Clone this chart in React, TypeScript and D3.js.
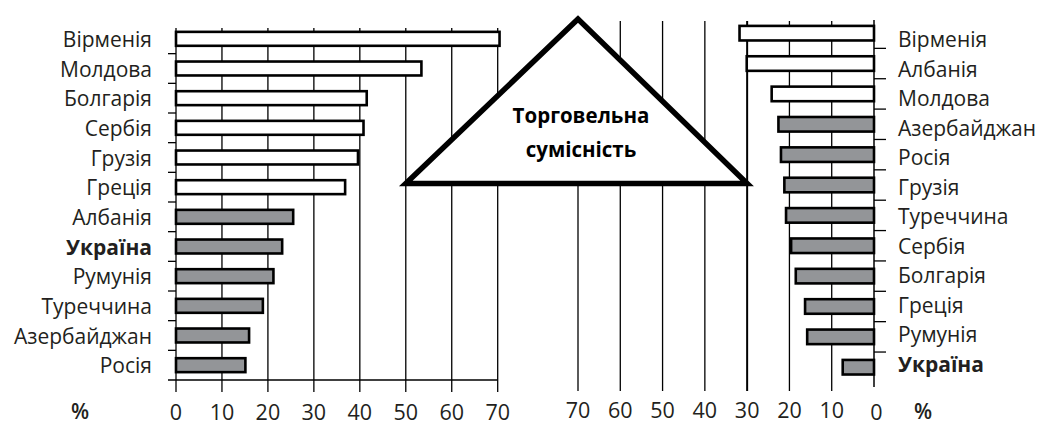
import * as d3 from 'd3';

const leftCountries = ['Вірменія', 'Молдова', 'Болгарія', 'Сербія', 'Грузія', 'Греція', 'Албанія', 'Україна', 'Румунія', 'Туреччина', 'Азербайджан', 'Росія'];
const leftValues = [70.4, 53.4, 41.5, 40.8, 39.6, 36.8, 25.5, 23.1, 21.2, 18.9, 15.9, 15.1];
const leftGroup = ['top', 'top', 'top', 'top', 'top', 'top', 'rest', 'rest', 'rest', 'rest', 'rest', 'rest'];

const rightCountries = ['Вірменія', 'Албанія', 'Молдова', 'Азербайджан', 'Росія', 'Грузія', 'Туреччина', 'Сербія', 'Болгарія', 'Греція', 'Румунія', 'Україна'];
const rightValues = [31.8, 30.1, 24.2, 22.6, 22.0, 21.2, 20.8, 19.6, 18.5, 16.3, 15.8, 7.4];
const rightGroup = ['top', 'top', 'top', 'rest', 'rest', 'rest', 'rest', 'rest', 'rest', 'rest', 'rest', 'rest'];

const ticks = [0, 10, 20, 30, 40, 50, 60, 70];
const highlight = 'Україна';
const title = ['Торговельна', 'сумісність'];

const FONT = '"Open Sans", "DejaVu Sans", sans-serif';
const GRAY = '#939598';
const INK = '#231f20';

export default function App() {
  const W = 1042;
  const H = 424;

  const xL = d3.scaleLinear().domain([0, 70]).range([176, 497.7]);
  const yL = d3.scaleBand().domain(leftCountries).range([24, 380]).paddingInner(0.53).paddingOuter(0.265);
  const yLTick = d3.scaleBand().domain(leftCountries).range([24, 380]);

  const xR = d3.scaleLinear().domain([0, 70]).range([874, 578]);
  const yR = d3.scaleBand().domain(rightCountries).range([18, 382.4]).paddingInner(0.52).paddingOuter(0.26);
  const yRTick = d3.scaleBand().domain(rightCountries).range([18, 382.4]);
  const yRLabel = d3.scaleBand().domain(rightCountries).range([24.7, 379.3]);

  // the roof-shaped frame around the title sits on the grid lines
  const tri = d3.line()([
    [xR(70), 19],
    [xL(50), 183.5],
    [xR(30), 183.5],
  ]) + 'Z';

  return (
    <svg width={W} height={H} style={{ position: 'absolute', left: 0, top: 0, background: '#fff' }} fontFamily={FONT}>
      {/* left grid */}
      {ticks.slice(1).map((t) => (
        <line key={'gl' + t} x1={xL(t)} x2={xL(t)} y1={28} y2={392} stroke="#000" strokeWidth={1.3} />
      ))}
      <line x1={168} x2={xL(70)} y1={380} y2={380} stroke="#000" strokeWidth={1.3} />
      <line x1={xL(0)} x2={xL(0)} y1={28} y2={392} stroke="#000" strokeWidth={1.3} />
      {leftCountries.slice(1).map((c) => (
        <line key={'lt' + c} x1={168} x2={xL(0)} y1={yLTick(c)} y2={yLTick(c)} stroke="#000" strokeWidth={1.3} />
      ))}

      {/* right grid */}
      {ticks.slice(1).map((t) => (
        <line key={'gr' + t} x1={xR(t)} x2={xR(t)} y1={21} y2={391} stroke="#000" strokeWidth={t === 30 ? 2 : 1.3} />
      ))}
      <line x1={xR(0)} x2={xR(0)} y1={20} y2={387} stroke="#000" strokeWidth={1.5} />
      {rightCountries.slice(1).map((c) => (
        <line key={'rt' + c} x1={xR(0)} x2={886} y1={yRTick(c)} y2={yRTick(c)} stroke="#000" strokeWidth={1.3} />
      ))}

      {/* left bars */}
      {leftCountries.map((c, i) => (
        <rect
          key={'lb' + c}
          x={xL(0)}
          y={yL(c)}
          width={xL(leftValues[i]) - xL(0)}
          height={yL.bandwidth()}
          fill={leftGroup[i] === 'top' ? '#fff' : GRAY}
          stroke="#000"
          strokeWidth={2.6}
        />
      ))}

      {/* right bars */}
      {rightCountries.map((c, i) => (
        <rect
          key={'rb' + c}
          x={xR(rightValues[i])}
          y={yR(c)}
          width={xR(0) - xR(rightValues[i])}
          height={yR.bandwidth()}
          fill={rightGroup[i] === 'top' ? '#fff' : GRAY}
          stroke="#000"
          strokeWidth={2.6}
        />
      ))}

      {/* triangle */}
      <path d={tri} fill="#fff" stroke="#000" strokeWidth={5.5} strokeLinejoin="miter" />
      {title.map((t, i) => (
        <text key={t} x={581} y={123 + i * 34} textAnchor="middle" fontWeight="bold" fontSize={20.5} fill="#000">
          {t}
        </text>
      ))}

      {/* labels */}
      {leftCountries.map((c) => (
        <text
          key={'ll' + c}
          x={152}
          y={yLTick(c)! + yLTick.bandwidth() / 2 + 8}
          textAnchor="end"
          fontSize={21}
          fontWeight={c === highlight ? 'bold' : 'normal'}
          fill={INK}
        >
          {c}
        </text>
      ))}
      {rightCountries.map((c) => (
        <text
          key={'rl' + c}
          x={898}
          y={yRLabel(c)! + yRLabel.bandwidth() / 2 + 7.5}
          textAnchor="start"
          fontSize={21}
          fontWeight={c === highlight ? 'bold' : 'normal'}
          fill={INK}
        >
          {c}
        </text>
      ))}

      {/* tick labels */}
      {ticks.map((t) => (
        <text key={'tl' + t} x={xL(t)} y={419.5} textAnchor="middle" fontSize={21.5} fill={INK}>
          {t}
        </text>
      ))}
      {ticks.map((t) => (
        <text key={'tr' + t} x={xR(t) + (t === 0 ? 2.5 : 0)} y={t === 0 ? 419.5 : 418} textAnchor="middle" fontSize={21.5} fill={INK}>
          {t}
        </text>
      ))}
      <text x={80} y={419} textAnchor="middle" fontSize={21} fontWeight={600} fill={INK}>%</text>
      <text x={923} y={419} textAnchor="middle" fontSize={21} fontWeight={600} fill={INK}>%</text>
    </svg>
  );
}
